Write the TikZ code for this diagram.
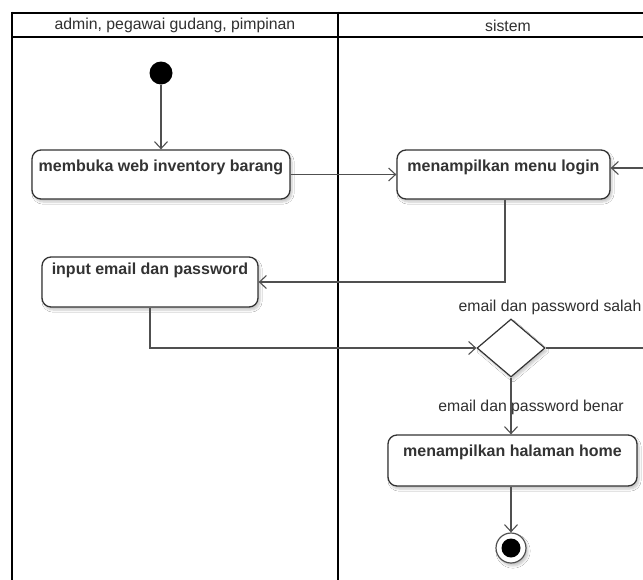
\documentclass[tikz,border=0pt]{standalone}
\usepackage{fontspec}
\setmainfont{Liberation Sans}
\usetikzlibrary{arrows.meta,shapes.geometric,shadows.blur}
\definecolor{linegray}{HTML}{505050}
\definecolor{boxgray}{HTML}{333333}
\definecolor{txtgray}{HTML}{303030}
\begin{document}
\begin{tikzpicture}[x=1pt,y=-1pt,
  frame/.style={draw=black,line width=2.6pt},
  headtext/.style={text=txtgray,font=\fontsize{15.8}{18}\selectfont,inner sep=0pt},
  actbox/.style={draw=boxgray,line width=1.3pt,rounded corners=9pt,fill=white,inner sep=0pt,
    blur shadow={shadow xshift=2pt,shadow yshift=-3pt,shadow blur steps=6,shadow opacity=22}},
  acttext/.style={text=boxgray,font=\bfseries\fontsize{16}{18}\selectfont,inner sep=0pt},
  decision/.style={diamond,draw=boxgray,line width=1.2pt,fill=white,inner sep=0pt,
    minimum width=68pt,minimum height=58pt,
    blur shadow={shadow xshift=2pt,shadow yshift=-3pt,shadow blur steps=6,shadow opacity=22}},
  guard/.style={text=txtgray,font=\fontsize{15.8}{18}\selectfont,inner sep=0pt},
  flow/.style={draw=linegray,line width=1.1pt,-{Straight Barb[length=7pt,width=13pt,line width=1.1pt]}},
  plain/.style={draw=linegray,line width=1.1pt}]
\useasboundingbox (0,0) rectangle (643,579);
\fill[white] (0,0) rectangle (643,579);

% swimlane frame
\draw[frame] (12,13) -- (643,13);
\draw[frame] (12,37) -- (643,37);
\draw[frame] (12,11.7) -- (12,580);
\draw[frame] (338,11.7) -- (338,580);
\node[headtext] (lane1) at (175,25.5) {admin, pegawai gudang, pimpinan};
\node[headtext] (lane2) at (508,25.5) {sistem};

% initial node
\node[circle,fill=black,minimum size=23pt,inner sep=0pt] (start) at (161,73) {};

% actions
\node[actbox,minimum width=258pt,minimum height=49pt] (b1) at (161,174.5) {};
\node[acttext] (t1) at (161,167) {membuka web inventory barang};
\node[actbox,minimum width=213pt,minimum height=49pt] (b2) at (503.5,174.5) {};
\node[acttext] (t2) at (503.5,167) {menampilkan menu login};
\node[actbox,minimum width=216pt,minimum height=50pt] (b3) at (150,282) {};
\node[acttext] (t3) at (150,270) {input email dan password};
\node[actbox,minimum width=249pt,minimum height=51pt] (b4) at (512.5,460.5) {};
\node[acttext] (t4) at (512.5,452) {menampilkan halaman home};

% decision
\node[decision] (dec) at (511,348) {};
\coordinate (loopc) at (643.3,348);

% final node
\node[circle,draw=linegray,line width=1.2pt,fill=white,minimum size=30pt,inner sep=0pt,
  blur shadow={shadow xshift=2pt,shadow yshift=-3pt,shadow blur steps=6,shadow opacity=22}] (endo) at (511,548) {};
\node[circle,fill=black,minimum size=19pt,inner sep=0pt] (endi) at (511,548) {};

% guards
\node[guard] (gs) at (550,307) {email dan password salah};
\node[guard] (gb) at (531,407) {email dan password benar};

% flows
\draw[flow] (start) -- (b1.north);
\draw[flow] (b1.east) -- (b2.west);
\draw[flow] ([xshift=1.5pt]b2.south) |- (b3.east);
\draw[flow] (b3.south) |- (dec.west);
\draw[plain] (dec.east) -- (loopc);
\draw[flow] (loopc) |- ([yshift=6.5pt]b2.east);
\draw[flow] (dec.south) -- (dec.south |- b4.north);
\draw[flow] (endo.north |- b4.south) -- (endo.north);
\end{tikzpicture}
\end{document}
